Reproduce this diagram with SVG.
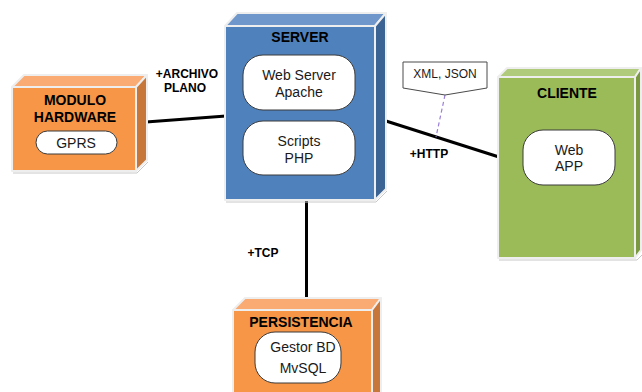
<svg xmlns="http://www.w3.org/2000/svg" width="642" height="392" viewBox="0 0 642 392">
<style>
.edge{stroke:#eeeeee;stroke-width:2;stroke-linejoin:round}
.shadow{fill:none;stroke:#c8c8c8;stroke-width:1}
.of{fill:#F79646}.ot{fill:#F9AB73}.or{fill:#C8773A}
.bf{fill:#4F81BD}.bt{fill:#6F97CB}.br{fill:#3B6393}
.gf{fill:#9BBB59}.gt{fill:#B0CB7C}.gr{fill:#7A9840}
.pill{fill:#ffffff;stroke:#3a3a3a;stroke-width:1}
.title{font-family:"Liberation Sans",Arial,sans-serif;font-weight:bold;font-size:14px;fill:#000;text-anchor:middle}
.ptxt{font-family:"Liberation Sans",Arial,sans-serif;font-size:14px;fill:#1a1a1a;text-anchor:middle}
.lbl{font-family:"Liberation Sans",Arial,sans-serif;font-weight:bold;font-size:12px;fill:#000;text-anchor:middle}
.conn{stroke:#000;stroke-width:3;fill:none}
</style>
<rect width="642" height="392" fill="#ffffff"/>
<g id="connectors">
<line class="conn" x1="146" y1="122" x2="226" y2="116"/>
<line class="conn" x1="306.5" y1="200" x2="306.5" y2="299"/>
<line class="conn" x1="386" y1="121" x2="499" y2="157"/>
<line x1="445" y1="95" x2="436" y2="137" stroke="#9a80d8" stroke-width="1.2" stroke-dasharray="4,3"/>
<text class="lbl" x="187" y="78">+ARCHIVO</text>
<text class="lbl" x="185" y="92">PLANO</text>
<text class="lbl" x="263" y="257">+TCP</text>
<text class="lbl" x="429" y="158">+HTTP</text>
</g>
<g id="note">
<path d="M403,62 H487 V88 L445,95 L403,88 Z" fill="#ffffff" stroke="#4a4a4a" stroke-width="1"/>
<text x="445" y="78" font-family="Liberation Sans,Arial,sans-serif" font-size="12" fill="#1a1a1a" text-anchor="middle">XML, JSON</text>
</g>
<g id="hardware">
<path class="shadow" d="M13,173 H137 L148,162"/>
<polygon class="ot edge" points="12,87 24,75 147,75 136,87"/>
<polygon class="or edge" points="136,87 147,75 147,160 136,171"/>
<rect class="of edge" x="12" y="87" width="124" height="84"/>
<text class="title" x="75" y="105">MODULO</text>
<text class="title" x="75" y="122">HARDWARE</text>
<rect class="pill" x="36" y="131" width="81" height="23" rx="11.5"/>
<text class="ptxt" x="76" y="148" font-size="13">GPRS</text>
</g>
<g id="server">
<path class="shadow" d="M226,202 H376 L387,191"/>
<polygon class="bt edge" points="225,26 237,13 386,13 375,26"/>
<polygon class="br edge" points="375,26 386,13 386,189 375,200"/>
<rect class="bf edge" x="225" y="26" width="150" height="174"/>
<text class="title" x="300" y="42">SERVER</text>
<rect class="pill" x="243" y="55" width="112" height="55" rx="20"/>
<text class="ptxt" x="299" y="80">Web Server</text>
<text class="ptxt" x="299" y="97">Apache</text>
<rect class="pill" x="243" y="121" width="112" height="54" rx="20"/>
<text class="ptxt" x="299" y="146">Scripts</text>
<text class="ptxt" x="299" y="163">PHP</text>
</g>
<g id="cliente">
<path class="shadow" d="M499,260 H637 L642,255"/>
<polygon class="gt edge" points="498,77 507,68 641,68 635,77"/>
<polygon class="gr edge" points="635,77 641,68 641,250 635,258"/>
<rect class="gf edge" x="498" y="77" width="137" height="181"/>
<text class="title" x="567" y="98">CLIENTE</text>
<rect class="pill" x="523" y="130" width="92" height="55" rx="20"/>
<text class="ptxt" x="569" y="155">Web</text>
<text class="ptxt" x="569" y="171">APP</text>
</g>
<g id="persistencia">
<polygon class="ot edge" points="233,310 245,298 381,298 372,310"/>
<polygon class="or edge" points="372,310 381,298 381,395 372,395"/>
<rect class="of edge" x="233" y="310" width="139" height="90"/>
<text class="title" x="301" y="327">PERSISTENCIA</text>
<rect class="pill" x="255" y="332" width="86" height="51" rx="20"/>
<text class="ptxt" x="303" y="352">Gestor BD</text>
<text class="ptxt" x="303" y="373">MvSQL</text>
</g>
</svg>
